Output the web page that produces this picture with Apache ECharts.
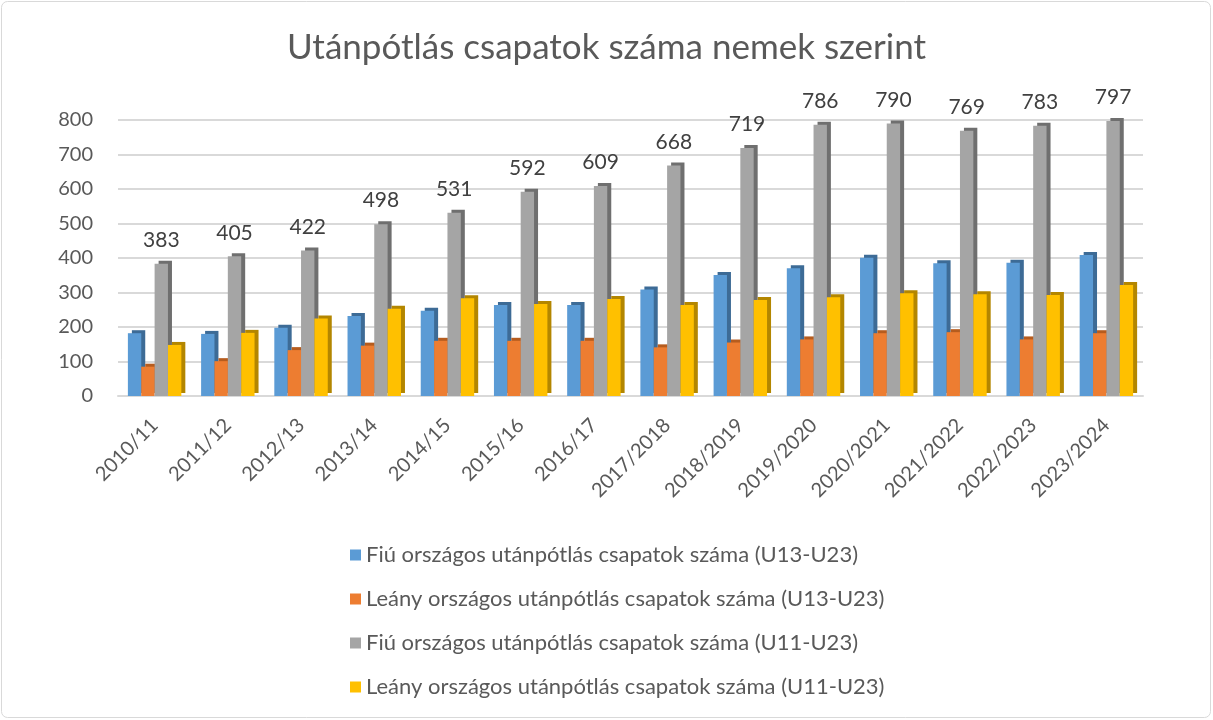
<!DOCTYPE html>
<html><head><meta charset="utf-8">
<script src="https://cdn.jsdelivr.net/npm/echarts@6/dist/echarts.min.js"></script>
<style>html,body{margin:0;padding:0;background:#fff}#c{width:1213px;height:720px}</style>
</head><body><div id="c"></div>
<script>
const categories = ['2010/11','2011/12','2012/13','2013/14','2014/15','2015/16','2016/17','2017/2018','2018/2019','2019/2020','2020/2021','2021/2022','2022/2023','2023/2024'];
const seriesNames = ['Fiú országos utánpótlás csapatok száma (U13-U23)','Leány országos utánpótlás csapatok száma (U13-U23)','Fiú országos utánpótlás csapatok száma (U11-U23)','Leány országos utánpótlás csapatok száma (U11-U23)'];
const boysU13 = [182,180,198,232,247,264,264,309,351,370,401,385,386,409];
const girlsU13 = [85,101,133,146,160,160,160,141,155,164,182,185,164,182];
const boysU11 = [383,405,422,498,531,592,609,668,719,786,790,769,783,797];
const girlsU11 = [148,183,225,253,283,267,281,264,278,286,298,295,293,322];
const yTicks = {min:0,max:800,interval:100};

const colors = ['#5b9bd5','#ed7d31','#a5a5a5','#ffc000'];
const sideColors = ['#3d6b96','#b65c1e','#6f6f6f','#b38600'];
const F = 'Lato, "Open Sans", sans-serif';
const dataSets = [boysU13, girlsU13, boysU11, girlsU11];

const chart = echarts.init(document.getElementById('c'), null, {renderer:'canvas'});
chart.setOption({
  backgroundColor:'#fff',
  animation:false,
  graphic:[{type:'rect',shape:{x:1.5,y:1.5,width:1209,height:716,r:6},style:{fill:'none',stroke:'#d9d9d9',lineWidth:1}}],
  title:{text:'Utánpótlás csapatok száma nemek szerint',left:'center',top:25,textStyle:{fontFamily:F,fontSize:35,fontWeight:'normal',color:'#595959'}},
  legend:{orient:'vertical',left:345,top:539,itemGap:22,itemWidth:11,itemHeight:11,icon:'rect',
    textStyle:{fontFamily:F,fontSize:22,color:'#595959'},data:seriesNames},
  grid:{left:118,right:70,top:120,bottom:324,containLabel:false},
  xAxis:{type:'category',data:categories,axisTick:{show:false},
    axisLine:{show:true,lineStyle:{color:'#d9d9d9',width:2}},
    axisLabel:{rotate:45,fontFamily:F,fontSize:20,color:'#595959',margin:26,interval:0}},
  yAxis:{type:'value',min:yTicks.min,max:yTicks.max,interval:yTicks.interval,
    axisLine:{show:false},axisTick:{show:false},
    axisLabel:{fontFamily:F,fontSize:20,color:'#595959',margin:25},
    splitLine:{lineStyle:{color:'#d9d9d9',width:2}}},
  series: dataSets.map((d,i)=>({
    name:seriesNames[i],type:'bar',data:d,barGap:'0%',barCategoryGap:'27%',
    itemStyle:{color:colors[i],shadowColor:sideColors[i],shadowOffsetX:4,shadowOffsetY:-3,shadowBlur:0},
    label: i===2 ? {show:true,position:'top',distance:13,fontFamily:F,fontSize:21,color:'#404040'} : {show:false}
  }))
});
</script></body></html>
